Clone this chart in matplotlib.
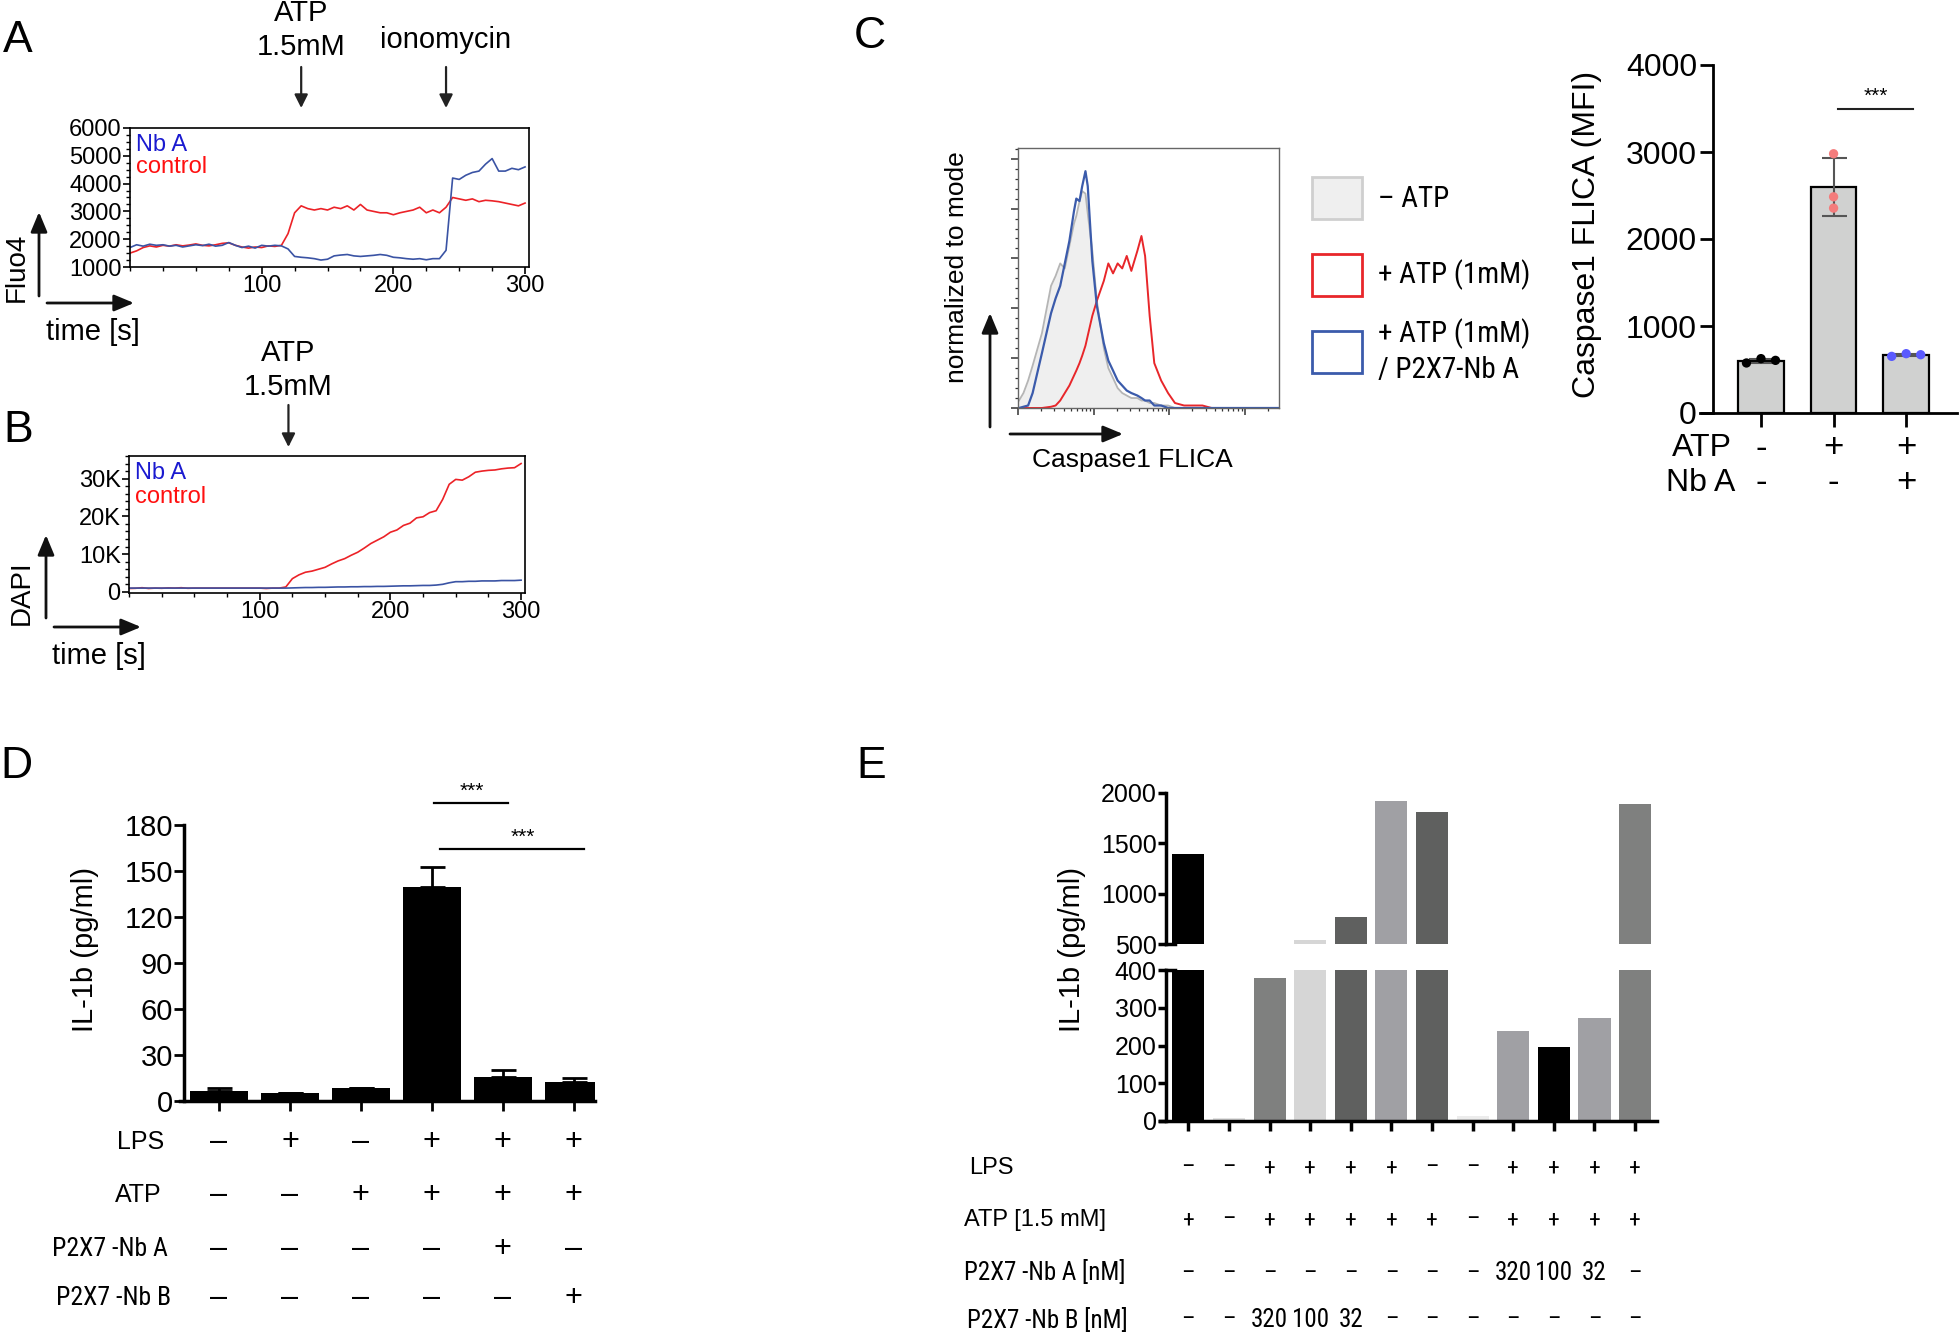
import numpy as np
import matplotlib
matplotlib.use("Agg")
import matplotlib.pyplot as plt
from matplotlib import font_manager
from matplotlib.patches import Rectangle, FancyArrowPatch
from matplotlib.ticker import MultipleLocator, NullFormatter, LogLocator
from matplotlib.transforms import blended_transform_factory

plt.rcParams['font.family'] = ['Liberation Sans', 'DejaVu Sans']

# condensed face for the row labels, if one is installed
_names = {f.name for f in font_manager.fontManager.ttflist}
HAVE_NARROW = False
NARROW = ['Liberation Sans', 'DejaVu Sans']
for cand in ['Liberation Sans Narrow', 'Roboto Condensed', 'Open Sans Condensed']:
    if cand in _names:
        NARROW = [cand, 'Liberation Sans', 'DejaVu Sans']
        HAVE_NARROW = True
        break


def nsize(narrow_size, regular_size):
    return narrow_size if HAVE_NARROW else regular_size


W, H = 1959, 1336
RED = '#ec2227'
BLUE = '#3a53a4'

# ---------------- A: Fluo4 (Ca2+) trace, sampled every 5 s ----------------
time_s = np.arange(0, 305, 5)
fluo4_control = [1500, 1580, 1700, 1760, 1720, 1780, 1750, 1800, 1760, 1790,
                 1830, 1780, 1760, 1800, 1850, 1870, 1780, 1720, 1680, 1720,
                 1700, 1760, 1740, 1780, 2200, 2950, 3200, 3100, 3050, 3100,
                 3050, 3150, 3100, 3200, 3050, 3250, 3050, 3000, 2950, 2950,
                 2880, 2950, 3000, 3050, 3150, 2950, 3050, 2950, 3150, 3500,
                 3450, 3400, 3450, 3350, 3400, 3380, 3350, 3300, 3250, 3200,
                 3300]
fluo4_nba = [1700, 1800, 1750, 1820, 1780, 1800, 1750, 1780, 1720, 1760,
             1800, 1770, 1820, 1750, 1780, 1880, 1780, 1700, 1750, 1680,
             1780, 1750, 1780, 1760, 1650, 1380, 1350, 1330, 1300, 1250,
             1280, 1400, 1430, 1450, 1400, 1380, 1400, 1420, 1450, 1420,
             1350, 1330, 1300, 1280, 1300, 1260, 1300, 1300, 1600, 4200,
             4150, 4300, 4400, 4450, 4700, 4900, 4450, 4450, 4550, 4500,
             4600]
atp_time_a = 130
iono_time = 240

# ---------------- B: DAPI uptake trace ----------------
dapi_control = [900, 950, 1100, 900, 1000, 950, 1050, 1000, 1100, 950,
                1000, 1000, 1000, 1000, 1000, 1000, 1000, 1000, 1000, 1000,
                1000, 900, 1000, 1000, 1300, 3500, 4500, 5200, 5500, 6000,
                6500, 7400, 8200, 8800, 9700, 10500, 11600, 12800, 13700, 14600,
                15800, 16400, 17600, 18200, 19600, 19900, 21000, 21500, 24500, 28500,
                29800, 29600, 30500, 31700, 32000, 32200, 32300, 32600, 32800, 32900,
                34000]
dapi_nba = [1000, 1000, 1000, 1000, 1000, 1000, 1000, 1000, 1000, 1000,
            1000, 1000, 1000, 1000, 1000, 1000, 1000, 1000, 1000, 1000,
            1000, 1000, 1000, 1000, 1000, 1050, 1100, 1150, 1150, 1200,
            1200, 1250, 1300, 1300, 1350, 1350, 1400, 1400, 1450, 1450,
            1500, 1550, 1600, 1600, 1650, 1700, 1700, 1800, 2000, 2400,
            2700, 2700, 2800, 2800, 2900, 2900, 2900, 3000, 3000, 3000,
            3100]
atp_time_b = 122
dapi_ticks = [0, 10000, 20000, 30000]
dapi_tick_labels = ['0', '10K', '20K', '30K']

# ---------------- C: Caspase1 FLICA histogram (% of mode) ----------------
flica_intensity = [10.3, 11.8, 13.6, 15.6, 20.7, 27.3, 31.4, 36.1, 41.5, 47.7,
                   54.9, 58.9, 64.9, 70.5, 77.8, 83.4, 95.9, 110, 136, 156,
                   180, 207, 238, 273, 314, 377, 427, 477, 548, 631,
                   778, 959, 1183, 1563, 2066, 2730, 3610, 28000]
hist_no_atp = [3, 6, 11, 17, 30, 49, 53, 58, 56, 65,
               74, 77, 83, 87, 86, 78, 63, 43, 24, 16,
               12, 8, 6, 5, 4, 4, 3, 3, 2, 2,
               1, 1, 0, 0, 0, 0, 0, 0]
hist_atp = [0, 0, 0, 0, 0, 0.5, 1, 3, 6, 9,
            13, 15, 18, 21, 25, 29, 37, 43, 51, 58,
            54, 58, 56, 61, 55, 63, 69, 61, 37, 18,
            11, 6, 2, 1, 1, 1, 0, 0]
hist_atp_nba = [0, 0.5, 1, 6, 22, 38, 44, 49, 58, 67,
                79, 84, 83, 89, 95, 89, 59, 41, 26, 19,
                15, 11, 9, 7, 6, 5, 4, 3, 3, 1,
                1, 0, 0, 0, 0, 0, 0, 0]
hist_legend = ['\u2013 ATP', '+ ATP (1mM)', '+ ATP (1mM)\n/ P2X7-Nb A']

# ---------------- C: Caspase1 FLICA MFI bars ----------------
flica_points = [[575, 625, 605], [2980, 2485, 2355], [651, 682, 670]]
flica_mean = [600, 2600, 668]
flica_sd = [20, 330, 15]
flica_atp = ['-', '+', '+']
flica_nba = ['-', '-', '+']

# ---------------- D: IL-1b ----------------
il1b_d = [6.7, 5.5, 8.4, 139.7, 15.8, 12.7]
il1b_d_err = [1.9, 0, 0, 12.7, 4.1, 2.4]
d_rows = ['LPS', 'ATP', 'P2X7 -Nb A', 'P2X7 -Nb B']
d_signs = [['\u2013', '+', '\u2013', '+', '+', '+'],
           ['\u2013', '\u2013', '+', '+', '+', '+'],
           ['\u2013', '\u2013', '\u2013', '\u2013', '+', '\u2013'],
           ['\u2013', '\u2013', '\u2013', '\u2013', '\u2013', '+']]

# ---------------- E: IL-1b titration ----------------
il1b_e = [1390, 8, 380, 535, 770, 1920, 1815, 13, 238, 195, 272, 1890]
e_colors = ['#000000', '#e2e2e2', '#7f807f', '#d6d6d6', '#5f605f', '#a0a0a4',
            '#5f605f', '#ececec', '#a0a0a4', '#000000', '#a0a0a4', '#7f807f']
e_rows = ['LPS', 'ATP [1.5 mM]', 'P2X7 -Nb A [nM]', 'P2X7 -Nb B [nM]']
e_signs = [['\u2013', '\u2013', '+', '+', '+', '+', '\u2013', '\u2013', '+', '+', '+', '+'],
           ['+', '\u2013', '+', '+', '+', '+', '+', '\u2013', '+', '+', '+', '+'],
           ['\u2013', '\u2013', '\u2013', '\u2013', '\u2013', '\u2013', '\u2013', '\u2013', '320', '100', '32', '\u2013'],
           ['\u2013', '\u2013', '320', '100', '32', '\u2013', '\u2013', '\u2013', '\u2013', '\u2013', '\u2013', '\u2013']]

fig = plt.figure(figsize=(W / 100, H / 100), dpi=100)


def fx(x):
    return x / W


def fy(y):
    return 1 - y / H


def add_ax(x0, y0, x1, y1):
    return fig.add_axes([fx(x0), fy(y1), (x1 - x0) / W, (y1 - y0) / H])


def ftext(x, y, s, **kw):
    kw.setdefault('ha', 'center')
    kw.setdefault('va', 'center')
    fig.text(fx(x), fy(y), s, **kw)


def farrow(x0, y0, x1, y1, lw=2.0, ms=20):
    fig.add_artist(FancyArrowPatch((fx(x0), fy(y0)), (fx(x1), fy(y1)),
                                   transform=fig.transFigure,
                                   arrowstyle='-|>,head_length=0.6,head_width=0.25',
                                   mutation_scale=ms, lw=lw, color='#111',
                                   shrinkA=0, shrinkB=0))


def event_arrow(ax, x, tip, tail, label, label_y):
    tr = blended_transform_factory(ax.transData, fig.transFigure)
    ax.annotate('', xy=(x, fy(tip)), xycoords=tr, xytext=(x, fy(tail)), textcoords=tr,
                arrowprops=dict(arrowstyle='-|>', color='#222', lw=1.6,
                                mutation_scale=20, shrinkA=0, shrinkB=0),
                annotation_clip=False)
    ax.text(x, fy(label_y), label, transform=tr, ha='center', va='center',
            fontsize=21, linespacing=1.25)


def style_trace(ax):
    ax.tick_params(which='major', labelsize=17, length=5, width=1.2, pad=1)
    ax.tick_params(which='minor', length=3, width=1)
    for sp in ax.spines.values():
        sp.set_linewidth(1.2)


# ---------- panel A ----------
axA = add_ax(130, 128, 529, 267)
axA.plot(time_s, fluo4_control, color=RED, lw=1.2)
axA.plot(time_s, fluo4_nba, color=BLUE, lw=1.2)
axA.set_xlim(0, 303)
axA.set_ylim(1000, 6000)
axA.set_xticks([100, 200, 300])
axA.set_yticks(range(1000, 6001, 1000))
axA.xaxis.set_minor_locator(MultipleLocator(25))
axA.yaxis.set_minor_locator(MultipleLocator(250))
style_trace(axA)
axA.text(0.015, 0.878, 'Nb A', color='#1a1ad0', fontsize=17, va='center', transform=axA.transAxes)
axA.text(0.015, 0.72, 'control', color='#ff1010', fontsize=17, va='center', transform=axA.transAxes)
event_arrow(axA, atp_time_a, 108, 67, 'ATP\n1.5mM', 30)
event_arrow(axA, iono_time, 108, 67, 'ionomycin', 40)
ftext(18, 40, 'A', fontsize=32)
ftext(17, 267, 'Fluo4', rotation=90, fontsize=20)
farrow(39, 296, 39, 212)
farrow(47, 303, 134, 303)
ftext(93, 332, 'time [s]', fontsize=21)

# ---------- panel B ----------
axB = add_ax(129, 456, 525, 593)
axB.plot(time_s, dapi_control, color=RED, lw=1.2)
axB.plot(time_s, dapi_nba, color=BLUE, lw=1.2)
axB.set_xlim(0, 303)
axB.set_ylim(-300, 36000)
axB.set_xticks([100, 200, 300])
axB.set_yticks(dapi_ticks)
axB.set_yticklabels(dapi_tick_labels)
axB.xaxis.set_minor_locator(MultipleLocator(25))
axB.yaxis.set_minor_locator(MultipleLocator(2000))
style_trace(axB)
axB.text(0.015, 0.875, 'Nb A', color='#1a1ad0', fontsize=17, va='center', transform=axB.transAxes)
axB.text(0.015, 0.70, 'control', color='#ff1010', fontsize=17, va='center', transform=axB.transAxes)
event_arrow(axB, atp_time_b, 447, 405, 'ATP\n1.5mM', 370)
ftext(18, 430, 'B', fontsize=32)
ftext(22, 593, 'DAPI', rotation=90, fontsize=20)
farrow(46, 618, 46, 535)
farrow(54, 627, 141, 627)
ftext(99, 656, 'time [s]', fontsize=21)

# ---------- panel C: histogram ----------
axH = add_ax(1018, 148, 1279, 408)
axH.fill_between(flica_intensity, hist_no_atp, color='#efefef', lw=0)
axH.plot(flica_intensity, hist_no_atp, color='#b5b5b5', lw=1.3)
axH.plot(flica_intensity, hist_atp, color='#e8262a', lw=1.4)
axH.plot(flica_intensity, hist_atp_nba, color='#3b5bab', lw=1.6)
axH.set_xscale('log')
axH.set_xlim(10, 28000)
axH.set_ylim(0, 104.3)
axH.set_yticks(range(0, 101, 20))
axH.yaxis.set_minor_locator(MultipleLocator(4))
axH.xaxis.set_major_locator(LogLocator(base=10))
axH.xaxis.set_minor_locator(LogLocator(base=10, subs=np.arange(2, 10)))
axH.xaxis.set_major_formatter(NullFormatter())
axH.xaxis.set_minor_formatter(NullFormatter())
axH.yaxis.set_major_formatter(NullFormatter())
axH.tick_params(which='major', length=5, width=1.1, color='#333')
axH.tick_params(which='minor', length=2.5, width=0.9, color='#333')
for sp in axH.spines.values():
    sp.set_linewidth(1.0)
    sp.set_color('#666666')

ftext(870, 37, 'C', fontsize=32)
ftext(957, 267, 'normalized to mode', rotation=90, fontsize=19)
farrow(990, 427, 990, 313)
farrow(1010, 434, 1123, 434)
ftext(1132, 460, 'Caspase1 FLICA', fontsize=19)

legend_boxes = [(177, 219, '#efefef', '#cfcfcf'), (254, 296, 'white', '#e8262a'), (331, 373, 'white', '#3b5bab')]
legend_text_y = [199, 275, 351]
for (y0, y1, fc, ec), lab, ty in zip(legend_boxes, hist_legend, legend_text_y):
    fig.add_artist(Rectangle((fx(1312), fy(y1)), (1362 - 1312) / W, (y1 - y0) / H,
                             transform=fig.transFigure, facecolor=fc, edgecolor=ec, lw=2))
    ftext(1378, ty, lab, ha='left', fontsize=nsize(21, 19), family=NARROW, linespacing=1.3)

# ---------- panel C: MFI bars ----------
axC = add_ax(1700, 65, 1957, 413)
xc = np.arange(len(flica_mean))
jitter = [[-0.2, 0, 0.2], [0, 0, 0], [-0.2, 0, 0.2]]
dot_colors = ['#000000', '#f47c7c', '#5a5aff']
axC.bar(xc, flica_mean, width=0.63, color='#d0d1d0', edgecolor='k', lw=1.6, zorder=2)
axC.errorbar(xc, flica_mean, yerr=flica_sd, fmt='none', ecolor='#555555',
             elinewidth=1.5, capsize=9, capthick=1.5, zorder=3)
for i, pts in enumerate(flica_points):
    axC.scatter(i + np.array(jitter[i]), pts, s=45, color=dot_colors[i], zorder=4, edgecolors='none')
axC.set_xlim(-0.84, 2.70)
axC.set_ylim(0, 4000)
axC.spines['left'].set_position(('data', -0.662))
axC.spines['top'].set_visible(False)
axC.spines['right'].set_visible(False)
axC.spines['left'].set_linewidth(2)
axC.spines['bottom'].set_linewidth(2)
axC.set_yticks(range(0, 4001, 1000))
axC.set_xticks(xc)
axC.set_xticklabels([])
axC.tick_params(axis='y', labelsize=23, length=9.5, width=2, pad=2)
axC.tick_params(axis='x', length=10, width=2)
axC.plot([1.06, 2.10], [3494, 3494], color='#222', lw=1.5, clip_on=False)
axC.text(1.58, 3530, '***', ha='center', va='bottom', fontsize=15)
trC = blended_transform_factory(axC.transData, fig.transFigure)
ftext(1732, 448, 'ATP', ha='right', fontsize=23)
ftext(1735, 483, 'Nb A', ha='right', fontsize=23)
for i in range(3):
    axC.text(i, fy(448), flica_atp[i], transform=trC, ha='center', va='center', fontsize=25)
    axC.text(i, fy(483), flica_nba[i], transform=trC, ha='center', va='center', fontsize=25)
ftext(1587, 234, 'Caspase1 FLICA (MFI)', rotation=90, fontsize=23)

# ---------- panel D ----------
axD = add_ax(180, 825, 595, 1101)
xd = np.arange(len(il1b_d))
axD.bar(xd, il1b_d, width=0.81, color='k', zorder=2)
axD.errorbar(xd, il1b_d, yerr=[np.zeros(len(il1b_d)), il1b_d_err], fmt='none', ecolor='k',
             elinewidth=2, capsize=9, capthick=2, zorder=3)
axD.set_xlim(-0.55, 5.30)
axD.set_ylim(0, 180)
axD.spines['left'].set_position(('data', -0.49))
axD.spines['top'].set_visible(False)
axD.spines['right'].set_visible(False)
axD.spines['left'].set_linewidth(2.5)
axD.spines['bottom'].set_linewidth(2.5)
axD.set_yticks(range(0, 181, 30))
axD.set_xticks(xd)
axD.set_xticklabels([])
axD.tick_params(axis='y', labelsize=21, length=7, width=2, pad=1)
axD.tick_params(axis='x', length=7, width=2)
axD.plot([3.03, 4.07], [194.4, 194.4], color='k', lw=1.6, clip_on=False)
axD.text(3.56, 196, '***', ha='center', va='bottom', fontsize=15)
axD.plot([3.11, 5.14], [164.4, 164.4], color='k', lw=1.6, clip_on=False)
axD.text(4.28, 166, '***', ha='center', va='bottom', fontsize=15)
ftext(85, 949, 'IL-1b (pg/ml)', rotation=90, fontsize=21)
ftext(16, 766, 'D', fontsize=32)
trD = blended_transform_factory(axD.transData, fig.transFigure)
d_row_y = [1142, 1195, 1249, 1298]
d_row_right = [164, 162, 168, 171]
d_row_size = [18, 18, nsize(18.5, 16), nsize(18.5, 16)]
d_row_family = [['Liberation Sans'], ['Liberation Sans'], NARROW, NARROW]
for lab, signs, ry, rx, fs, fam in zip(d_rows, d_signs, d_row_y, d_row_right, d_row_size, d_row_family):
    ftext(rx, ry, lab, ha='right', fontsize=fs, family=fam)
    for i, s in enumerate(signs):
        axD.text(i, fy(ry), s, transform=trD, ha='center', va='center', fontsize=22)

# ---------- panel E (broken y axis) ----------
xe = np.arange(len(il1b_e))
axEu = add_ax(1160, 793, 1657, 944)
axEl = add_ax(1160, 970, 1657, 1121)
for ax in (axEu, axEl):
    ax.bar(xe, il1b_e, width=0.79, color=e_colors, zorder=2)
    ax.set_xlim(-0.70, 11.54)
    ax.spines['left'].set_position(('data', -0.542))
    ax.spines['top'].set_visible(False)
    ax.spines['right'].set_visible(False)
    ax.spines['left'].set_linewidth(2.5)
    ax.spines['bottom'].set_linewidth(2.5)
    ax.tick_params(axis='y', labelsize=18, length=6, width=2.5, pad=1)
axEu.set_ylim(500, 2000)
axEu.set_yticks(range(500, 2001, 500))
axEu.spines['bottom'].set_visible(False)
axEu.set_xticks([])
axEl.set_ylim(0, 400)
axEl.set_yticks(range(0, 401, 100))
axEl.set_xticks(xe)
axEl.set_xticklabels([])
axEl.tick_params(axis='x', length=7, width=2.5)
axEu.plot([-0.542, -0.32], [500, 500], color='k', lw=2.5, clip_on=False)
axEl.plot([-0.542, -0.32], [400, 400], color='k', lw=2.5, clip_on=False)
ftext(1072, 950, 'IL-1b (pg/ml)', rotation=90, fontsize=21)
ftext(871, 766, 'E', fontsize=32)
trE = blended_transform_factory(axEl.transData, fig.transFigure)
e_row_y = [1168, 1220, 1273, 1320]
e_row_left = [969, 964, 964, 967]
e_row_size = [17, 17, nsize(18, 15.5), nsize(18, 15.5)]
e_row_family = [['Liberation Sans'], ['Liberation Sans'], NARROW, NARROW]
for lab, signs, ry, rx, fs, fam in zip(e_rows, e_signs, e_row_y, e_row_left, e_row_size, e_row_family):
    ftext(rx, ry, lab, ha='left', fontsize=fs, family=fam)
    for i, s in enumerate(signs):
        axEl.text(i, fy(ry), s, transform=trE, ha='center', va='center',
                  fontsize=17 if s in ('+', '\u2013') else nsize(18, 15), family=NARROW)

fig.savefig('out.png', dpi=100)
